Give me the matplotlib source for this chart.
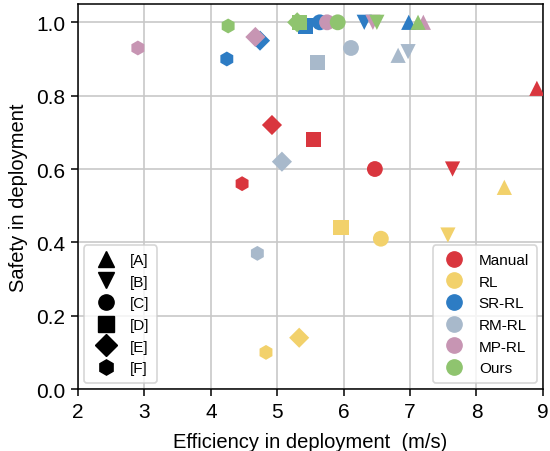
import matplotlib.pyplot as plt
from matplotlib.lines import Line2D

plt.rcParams['font.family'] = ['Liberation Sans', 'DejaVu Sans']

methods = ['Manual', 'RL', 'SR-RL', 'RM-RL', 'MP-RL', 'Ours']
colors = ['#d9363e', '#f2d16b', '#2d7cc4', '#a8b9cb', '#c795b3', '#8fc46f']
markers = ['^', 'v', 'o', 's', 'D', 'h']
marker_labels = ['[A]', '[B]', '[C]', '[D]', '[E]', '[F]']

# efficiency (m/s) per method, order A..F
eff = {
    'Manual': [8.91, 7.64, 6.47, 5.54, 4.92, 4.47],
    'RL':     [8.42, 7.57, 6.56, 5.96, 5.33, 4.83],
    'SR-RL':  [6.98, 6.31, 5.64, 5.42, 4.74, 4.24],
    'RM-RL':  [6.82, 6.97, 6.11, 5.61, 5.07, 4.70],
    'MP-RL':  [7.20, 6.44, 5.75, 5.34, 4.67, 2.90],
    'Ours':   [7.12, 6.50, 5.91, 5.34, 5.30, 4.26],
}
# safety in deployment per method, order A..F
safe = {
    'Manual': [0.82, 0.60, 0.60, 0.68, 0.72, 0.56],
    'RL':     [0.55, 0.42, 0.41, 0.44, 0.14, 0.10],
    'SR-RL':  [1.00, 1.00, 1.00, 0.99, 0.95, 0.90],
    'RM-RL':  [0.91, 0.92, 0.93, 0.89, 0.62, 0.37],
    'MP-RL':  [1.00, 1.00, 1.00, 1.00, 0.96, 0.93],
    'Ours':   [1.00, 1.00, 1.00, 1.00, 1.00, 0.99],
}
sizes = {'^': 120, 'v': 120, 'o': 130, 's': 120, 'D': 105, 'h': 115}

fig = plt.figure(figsize=(5.5, 4.52), dpi=100)
ax = fig.add_axes([0.142, 0.137, 0.845, 0.852])

for m, c in zip(methods, colors):
    for k, mk in enumerate(markers):
        ax.scatter(eff[m][k], safe[m][k], marker=mk, color=c, s=sizes[mk],
                   edgecolors='none', zorder=3)

ax.set_xlim(2, 9)
ax.set_ylim(0, 1.05)
ax.set_xticks(range(2, 10))
ax.set_yticks([0, 0.2, 0.4, 0.6, 0.8, 1.0])
ax.grid(True, color='#c8c8c8', linewidth=1.2, zorder=0)
ax.set_axisbelow(True)
for s in ax.spines.values():
    s.set_linewidth(1.1)
ax.tick_params(labelsize=15, direction='out', length=5, width=1.1, pad=4)
ax.set_xlabel('Efficiency in deployment  (m/s)', fontsize=14.5, labelpad=8)
ax.set_ylabel('Safety in deployment', fontsize=14.5, labelpad=6)

h1 = [Line2D([], [], marker=mk, color='black', linestyle='none', markersize=11)
      for mk in markers]
leg1 = ax.legend(h1, marker_labels, loc='lower left', fontsize=11,
                 handletextpad=0.7, labelspacing=0.5, borderaxespad=0.4,
                 handlelength=1.8, borderpad=0.5)
leg1.get_frame().set_linewidth(1.2)
ax.add_artist(leg1)

h2 = [Line2D([], [], marker='o', color=c, linestyle='none', markersize=11)
      for c in colors]
leg2 = ax.legend(h2, methods, loc='lower right', fontsize=11,
                 handletextpad=0.7, labelspacing=0.5, borderaxespad=0.4,
                 handlelength=1.8, borderpad=0.5)
leg2.get_frame().set_linewidth(1.2)

fig.savefig('out.png', dpi=100)
